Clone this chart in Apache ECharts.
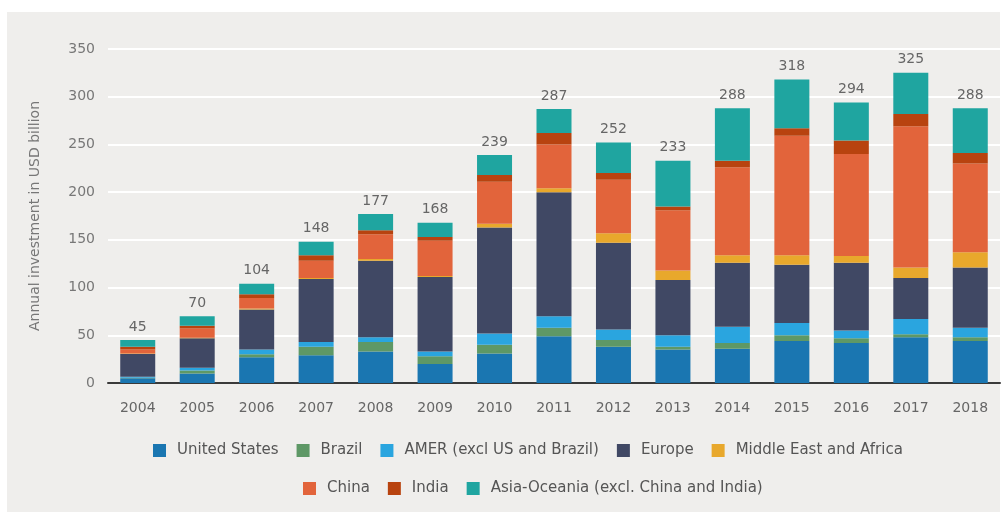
<!DOCTYPE html>
<html>
<head>
<meta charset="utf-8">
<script src="https://cdn.jsdelivr.net/npm/echarts@6/dist/echarts.min.js"></script>
<style>
html,body{margin:0;padding:0;background:#ffffff;}
#chart{width:1006px;height:512px;}
</style>
</head>
<body>
<div id="chart"></div>
<script>
const years = ['2004','2005','2006','2007','2008','2009','2010','2011','2012','2013','2014','2015','2016','2017','2018'];
const unitedStates = [5, 10, 27, 29, 33, 20, 31, 49, 38, 35, 36, 44, 42, 48, 44];
const brazil       = [0.5, 3, 3, 9, 10, 8, 9, 9, 7, 3, 6, 6, 5, 3, 4];
const amer         = [1, 3, 5, 5, 5, 5, 12, 12, 11, 12, 17, 13, 8, 16, 10];
const europe       = [24, 31, 42, 66, 80, 78, 111, 130, 91, 58, 67, 61, 71, 43, 63];
const middleEastAfrica = [0.5, 0.5, 1, 1, 2, 1, 4, 4, 10, 10, 8, 10, 7, 11, 16];
const china        = [4, 9.5, 11, 18, 26, 37, 44, 46, 56, 63, 92, 125, 107, 148, 93];
const india        = [3, 3, 4, 6, 4, 4, 7, 12, 7, 4, 7, 8, 14, 13, 11];
const asiaOceania  = [7, 10, 11, 14, 17, 15, 21, 25, 32, 48, 55, 51, 40, 43, 47];
const totals       = [45, 70, 104, 148, 177, 168, 239, 287, 252, 233, 288, 318, 294, 325, 288];
const yTicks = [0, 50, 100, 150, 200, 250, 300, 350];

const seriesDefs = [
  {name:'United States', data:unitedStates, color:'#1a76b1'},
  {name:'Brazil', data:brazil, color:'#5e9866'},
  {name:'AMER (excl US and Brazil)', data:amer, color:'#2aa5df'},
  {name:'Europe', data:europe, color:'#404864'},
  {name:'Middle East and Africa', data:middleEastAfrica, color:'#e8a82c'},
  {name:'China', data:china, color:'#e2643b'},
  {name:'India', data:india, color:'#b8430f'},
  {name:'Asia-Oceania (excl. China and India)', data:asiaOceania, color:'#1fa5a0'}
];

const FONT = 'DejaVu Sans';
const chart = echarts.init(document.getElementById('chart'), null, {renderer:'canvas'});

const series = seriesDefs.map((s, i) => {
  const o = {
    name: s.name,
    type: 'bar',
    stack: 'total',
    barWidth: 35,
    data: s.data,
    itemStyle: {color: s.color},
    emphasis: {disabled: true}
  };
  if (i === seriesDefs.length - 1) {
    o.label = {
      show: true,
      position: 'top',
      distance: 6,
      color: '#666',
      fontSize: 14,
      fontFamily: FONT,
      formatter: p => String(totals[p.dataIndex])
    };
  }
  return o;
});

const legendText = {color:'#555', fontSize:15, fontFamily: FONT, padding:[0,0,0,6]};

chart.setOption({
  animation: false,
  backgroundColor: '#ffffff',
  graphic: [{
    type: 'rect', z: -10, silent: true,
    shape: {x: 7, y: 12, width: 993, height: 500},
    style: {fill: '#efeeec'}
  }],
  grid: {left: 108, right: 6, top: 49, bottom: 129, containLabel: false},
  legend: [
    {
      data: seriesDefs.slice(0,5).map(s => s.name),
      top: 438, left: 148,
      itemWidth: 13, itemHeight: 13, itemGap: 18,
      icon: 'rect',
      textStyle: legendText
    },
    {
      data: seriesDefs.slice(5).map(s => s.name),
      top: 476, left: 298,
      itemWidth: 13, itemHeight: 13, itemGap: 18,
      icon: 'rect',
      textStyle: legendText
    }
  ],
  xAxis: {
    type: 'category',
    data: years,
    axisTick: {show: false},
    axisLine: {show: true, lineStyle: {color: '#3a3a3a', width: 2}},
    axisLabel: {color: '#666', fontSize: 14, fontFamily: FONT, margin: 18}
  },
  yAxis: {
    type: 'value',
    min: yTicks[0], max: yTicks[yTicks.length-1], interval: 50,
    name: 'Annual investment in USD billion',
    nameLocation: 'middle',
    nameGap: 66,
    nameTextStyle: {color: '#777', fontSize: 14, fontFamily: FONT},
    axisLine: {show: false},
    axisTick: {show: false},
    axisLabel: {color: '#777', fontSize: 14, fontFamily: FONT, margin: 13},
    splitLine: {show: true, lineStyle: {color: '#ffffff', width: 2}}
  },
  series: series
});
</script>
</body>
</html>
